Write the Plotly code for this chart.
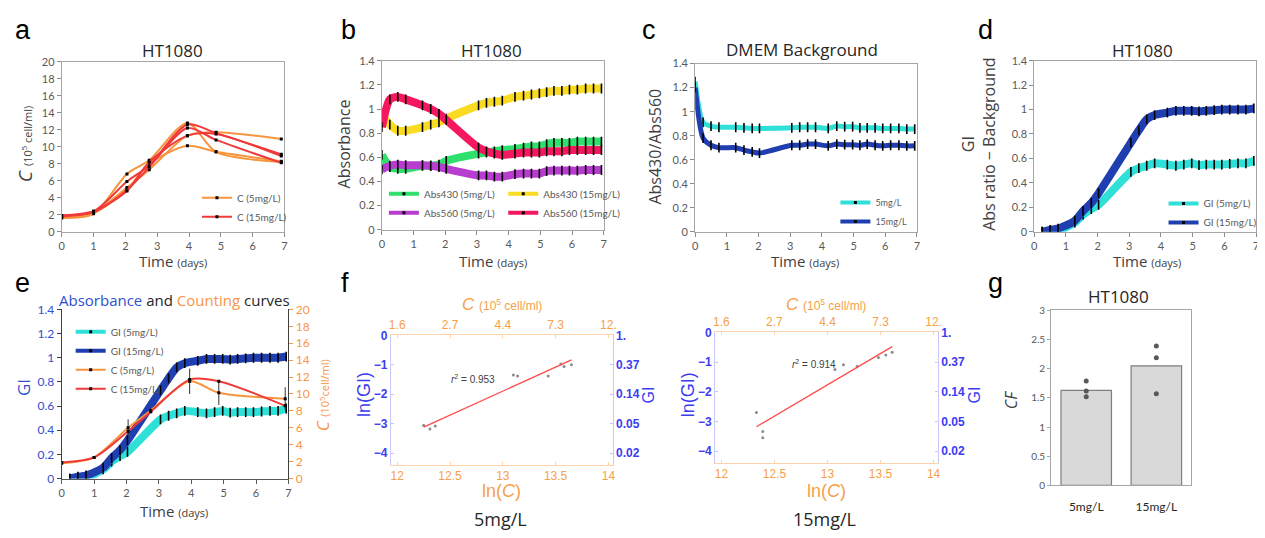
import numpy as np
import plotly.graph_objects as go

W, H = 1265, 538          # reference picture size
OX, OY = 8, 8             # page body margin of the html page
FW, FH = W - OX, H - OY   # figure size


def px(x):
    return (x - OX) / FW


def py(y):
    return 1 - (y - OY) / FH


# ---------------- DATA ----------------
# panel a / e : cell counts (10^5 cell/ml)
t_count = [0, 1, 2.05, 2.75, 3.95, 4.85, 6.9]
c5_rep1 = [1.6, 2.1, 6.8, 8.4, 12.8, 9.4, 8.2]
c5_rep2 = [1.7, 2.2, 5.0, 8.0, 10.1, 9.4, 8.3]
c5_rep3 = [1.8, 2.3, 5.2, 7.3, 11.3, 11.7, 10.9]
c15_rep1 = [1.9, 2.4, 5.9, 7.8, 12.6, 11.6, 9.1]
c15_rep2 = [1.8, 2.3, 4.9, 7.6, 12.2, 10.8, 8.1]
c15_rep3 = [1.9, 2.4, 4.8, 8.2, 11.3, 11.5, 8.9]
c5_mean = [1.8, 2.5, 6.0, 8.05, 11.5, 10.15, 9.45]
c5_err = [0.1, 0.1, 1.0, 0.3, 1.5, 1.45, 1.35]
c15_mean = [1.9, 2.5, 5.6, 7.9, 11.7, 11.5, 8.6]

# panels b, c, d, e : absorbance time points (days)
t_abs = [0, 0.25, 0.5, 0.75, 1.28, 1.54, 1.8, 2.03, 3.05, 3.3, 3.55, 3.8,
         4.2, 4.47, 4.72, 4.97, 5.2, 5.43, 5.68, 5.92, 6.17, 6.43, 6.68, 6.93]
abs430_5 = [0.62, 0.52, 0.505, 0.505, 0.53, 0.53, 0.54, 0.57, 0.63, 0.64, 0.65, 0.66,
            0.67, 0.68, 0.69, 0.69, 0.71, 0.72, 0.72, 0.72, 0.73, 0.73, 0.73, 0.73]
abs430_15 = [0.95, 0.87, 0.82, 0.82, 0.85, 0.87, 0.89, 0.92, 1.03, 1.05, 1.06, 1.07,
             1.10, 1.11, 1.12, 1.13, 1.14, 1.15, 1.15, 1.16, 1.16, 1.17, 1.17, 1.17]
abs560_5 = [0.50, 0.53, 0.54, 0.535, 0.535, 0.53, 0.52, 0.505, 0.45, 0.45, 0.44, 0.44,
            0.46, 0.465, 0.465, 0.465, 0.485, 0.49, 0.49, 0.49, 0.49, 0.495, 0.495, 0.495]
abs560_15 = [0.85, 1.08, 1.10, 1.08, 1.03, 1.00, 0.96, 0.91, 0.68, 0.65, 0.63, 0.62,
             0.63, 0.64, 0.64, 0.64, 0.65, 0.65, 0.65, 0.66, 0.66, 0.66, 0.66, 0.66]
bg_5 = [1.25, 0.91, 0.88, 0.87, 0.87, 0.865, 0.86, 0.86, 0.865, 0.87, 0.87, 0.87,
        0.86, 0.88, 0.875, 0.875, 0.865, 0.865, 0.865, 0.86, 0.86, 0.86, 0.855, 0.855]
bg_15 = [1.2, 0.78, 0.72, 0.70, 0.70, 0.68, 0.665, 0.655, 0.72, 0.72, 0.73, 0.73,
         0.715, 0.73, 0.725, 0.725, 0.72, 0.73, 0.72, 0.715, 0.72, 0.72, 0.715, 0.715]
t_gi = [0.25, 0.5, 0.75, 1.28, 1.54, 1.8, 2.03, 3.05, 3.3, 3.55, 3.8,
        4.2, 4.47, 4.72, 4.97, 5.2, 5.43, 5.68, 5.92, 6.17, 6.43, 6.68, 6.93]
gi_5 = [0.0, 0.01, 0.01, 0.075, 0.14, 0.185, 0.22, 0.49, 0.52, 0.54, 0.56,
        0.55, 0.54, 0.55, 0.56, 0.545, 0.55, 0.55, 0.55, 0.555, 0.56, 0.56, 0.58]
gi_15 = [0.0, 0.015, 0.025, 0.09, 0.17, 0.235, 0.315, 0.73, 0.83, 0.92, 0.955,
         0.975, 0.99, 0.99, 0.99, 0.985, 0.99, 0.995, 1.0, 1.0, 1.0, 1.0, 1.01]

# panel f : ln(C) vs ln(GI)
lnc_5 = [12.25, 12.31, 12.36, 13.10, 13.14, 13.43, 13.55, 13.58, 13.65]
lngi_5 = [-3.05, -3.18, -3.08, -1.35, -1.38, -1.38, -0.97, -1.06, -1.0]
lnc_15 = [12.33, 12.39, 12.39, 13.07, 13.15, 13.28, 13.48, 13.55, 13.61]
lngi_15 = [-2.70, -3.34, -3.55, -1.25, -1.09, -1.14, -0.85, -0.76, -0.67]
r2_5 = "0.953"
r2_15 = "0.914"
f_xticks = [12, 12.5, 13, 13.5, 14]
f_xticktext = ["12", "12.5", "13", "13.5", "14"]
f_ctext = ["1.6", "2.7", "4.4", "7.3", "12."]
f_yticks = [0, -1, -2, -3, -4]
f_gitext = ["1.", "0.37", "0.14", "0.05", "0.02"]

# panel g : CF
g_cats = ["5mg/L", "15mg/L"]
g_means = [1.63, 2.05]
g_pts_x = ["5mg/L", "5mg/L", "5mg/L", "15mg/L", "15mg/L", "15mg/L"]
g_pts_y = [1.79, 1.62, 1.52, 2.39, 2.19, 1.57]

# ---------------- STYLE ----------------
ORANGE = "#f7953f"
RED = "#f03a3a"
GREEN = "#2fe06c"
YELLOW = "#f9dc22"
PURPLE = "#b83ccf"
PINK = "#f5185f"
CYAN = "#2fe0d8"
NAVY = "#1f3fb0"
TICK = "#595959"
TXT = "#262626"
EBLUE = "#2f4fd0"
EORANGE = "#f79646"
MBLUE = "#3c3cf0"
MORANGE = "#f5a04a"

fig = go.Figure()


def band(x, y, color, name, xa, ya, legend, width=8):
    fig.add_trace(go.Scatter(
        x=x, y=y, mode="lines+markers", name=name, legendgroup=name + xa,
        showlegend=False,
        line=dict(color=color, width=width, shape="spline", smoothing=0.7),
        marker=dict(symbol="line-ns", size=7, color="black",
                    line=dict(color="black", width=1.6)),
        xaxis=xa, yaxis=ya))
    # legend entry (thin line with a small black point, as in the reference)
    fig.add_trace(go.Scatter(
        x=[None], y=[None], mode="lines+markers", name=name, legendgroup=name + xa,
        line=dict(color=color, width=4),
        marker=dict(symbol="square", size=3, color="black"),
        xaxis=xa, yaxis=ya, legend=legend))


def count_line(x, y, color, name, xa, ya, legend, show):
    fig.add_trace(go.Scatter(
        x=x, y=y, mode="lines+markers", name=name, legendgroup=name,
        showlegend=show,
        line=dict(color=color, width=2, shape="spline", smoothing=0.8),
        marker=dict(symbol="square", size=3, color="black"),
        xaxis=xa, yaxis=ya, legend=legend))


# panel a
for i, rep in enumerate([c5_rep1, c5_rep2, c5_rep3]):
    count_line(t_count, rep, ORANGE, "C (5mg/L)", "x", "y", "legend", i == 0)
for i, rep in enumerate([c15_rep1, c15_rep2, c15_rep3]):
    count_line(t_count, rep, RED, "C (15mg/L)", "x", "y", "legend", i == 0)

# panel b
band(t_abs, abs430_15, YELLOW, "Abs430 (15mg/L)", "x2", "y2", "legend3")
band(t_abs, abs430_5, GREEN, "Abs430 (5mg/L)", "x2", "y2", "legend2")
band(t_abs, abs560_5, PURPLE, "Abs560 (5mg/L)", "x2", "y2", "legend2")
band(t_abs, abs560_15, PINK, "Abs560 (15mg/L)", "x2", "y2", "legend3")

# panel c
band(t_abs, bg_5, CYAN, "5mg/L", "x3", "y3", "legend4", width=5)
band(t_abs, bg_15, NAVY, "15mg/L", "x3", "y3", "legend4", width=5)

# panel d
band(t_gi, gi_5, CYAN, "GI (5mg/L)", "x4", "y4", "legend5")
band(t_gi, gi_15, NAVY, "GI (15mg/L)", "x4", "y4", "legend5")

# panel e
band(t_gi, gi_5, CYAN, "GI (5mg/L)", "x5", "y5", "legend6")
band(t_gi, gi_15, NAVY, "GI (15mg/L)", "x5", "y5", "legend6")
fig.add_trace(go.Scatter(
    x=t_count, y=c5_mean, mode="lines+markers", name="C (5mg/L)",
    line=dict(color=ORANGE, width=2, shape="spline", smoothing=0.8),
    marker=dict(symbol="square", size=3, color="black"),
    error_y=dict(type="data", array=c5_err, color="#333333", thickness=1, width=0),
    xaxis="x5", yaxis="y6", legend="legend6"))
fig.add_trace(go.Scatter(
    x=t_count, y=c15_mean, mode="lines+markers", name="C (15mg/L)",
    line=dict(color=RED, width=2, shape="spline", smoothing=0.8),
    marker=dict(symbol="square", size=3, color="black"),
    xaxis="x5", yaxis="y6", legend="legend6"))

# panel f
for lnc, lngi, xb, yl, xt, yr in [(lnc_5, lngi_5, "x6", "y7", "x7", "y8"),
                                  (lnc_15, lngi_15, "x8", "y9", "x9", "y10")]:
    fig.add_trace(go.Scatter(x=lnc, y=lngi, mode="markers", showlegend=False,
                             marker=dict(color="#8c8c8c", size=3),
                             xaxis=xb, yaxis=yl))
    slope, icpt = np.polyfit(lnc, lngi, 1)
    fx_line = [min(lnc), max(lnc)]
    fig.add_trace(go.Scatter(x=fx_line, y=[slope * v + icpt for v in fx_line],
                             mode="lines", showlegend=False,
                             line=dict(color="#ff4a4a", width=1.3),
                             xaxis=xb, yaxis=yl))
    fig.add_trace(go.Scatter(x=lnc, y=lngi, mode="markers", showlegend=False,
                             marker=dict(opacity=0), hoverinfo="skip",
                             xaxis=xt, yaxis=yr))

# panel g
fig.add_trace(go.Bar(x=g_cats, y=g_means, width=0.72, showlegend=False,
                     marker=dict(color="#d9d9d9", line=dict(color="#7f7f7f", width=1.2)),
                     xaxis="x10", yaxis="y11"))
fig.add_trace(go.Scatter(x=g_pts_x, y=g_pts_y, mode="markers", showlegend=False,
                         marker=dict(color="#595959", size=5),
                         xaxis="x10", yaxis="y11"))

# ---------------- AXES ----------------
tickfont = dict(family="Lato", size=11, color=TICK)
base = dict(showgrid=False, zeroline=False, showline=True, linecolor="#a6a6a6",
            linewidth=1, mirror=True, ticks="outside", ticklen=4,
            tickcolor="#8c8c8c", tickfont=tickfont)


def xd(l, r):
    return [px(l), px(r)]


def yd(b, t):
    return [py(b), py(t)]


lay = {}
lay["xaxis"] = dict(domain=xd(59, 283), range=[0, 7], dtick=1, anchor="y", **base)
lay["yaxis"] = dict(domain=yd(230, 55), range=[0, 20], dtick=2, anchor="x", **base)
lay["xaxis2"] = dict(domain=xd(381, 604), range=[0, 7], dtick=1, anchor="y2", **base)
lay["yaxis2"] = dict(domain=yd(228, 54), range=[0, 1.4], dtick=0.2, anchor="x2", **base)
lay["xaxis3"] = dict(domain=xd(696, 919), range=[0, 7], dtick=1, anchor="y3", **base)
lay["yaxis3"] = dict(domain=yd(230, 57), range=[0, 1.4], dtick=0.2, anchor="x3", **base)
lay["xaxis4"] = dict(domain=xd(1037, 1260), range=[0, 7], dtick=1, anchor="y4", **base)
lay["yaxis4"] = dict(domain=yd(230, 54), range=[0, 1.4], dtick=0.2, anchor="x4", **base)

ebase = dict(showgrid=False, zeroline=False, showline=True, linewidth=1,
             ticks="outside", ticklen=4)
lay["xaxis5"] = dict(domain=xd(59, 287), range=[0, 7], dtick=1, anchor="y5",
                     linecolor="#595959", tickcolor="#595959", tickfont=tickfont, **ebase)
lay["yaxis5"] = dict(domain=yd(484, 310), range=[0, 1.4], dtick=0.2, anchor="x5",
                     linecolor="#404040", tickcolor="#404040",
                     tickfont=dict(family="Lato", size=12, color=EBLUE), **ebase)
lay["yaxis6"] = dict(range=[0, 20], dtick=2, anchor="x5", overlaying="y5", side="right",
                     linecolor="#404040", tickcolor=EORANGE,
                     tickfont=dict(family="Lato", size=12, color=EORANGE), **ebase)

fbase = dict(showgrid=False, zeroline=False, showline=True, linewidth=1,
             ticks="inside", ticklen=3)
for xb, yl, xt, yr, (l, r), (b, t) in [("xaxis6", "yaxis7", "xaxis7", "yaxis8", (390, 613), (470, 336)),
                                      ("xaxis8", "yaxis9", "xaxis9", "yaxis10", (716, 940), (468, 333))]:
    yid = "y" + yl[5:]
    xid = "x" + xb[5:]
    lay[xb] = dict(domain=xd(l, r), range=[11.94, 14.04], tickvals=f_xticks,
                   ticktext=f_xticktext, anchor=yid, linecolor="#fcd3aa", tickcolor="#fcd3aa",
                   tickfont=dict(family="Liberation Sans", size=12, color=MORANGE), **fbase)
    lay[xt] = dict(range=[11.94, 14.04], tickvals=f_xticks, ticktext=f_ctext,
                   overlaying=xid, side="top", anchor=yid, linecolor="#fcd3aa",
                   tickcolor="#fcd3aa",
                   tickfont=dict(family="Liberation Sans", size=12, color=MORANGE), **fbase)
    lay[yl] = dict(domain=yd(b, t), range=[-4.4, 0.02], tickvals=f_yticks, anchor=xid,
                   linecolor="#c8c8fa", tickcolor="#c8c8fa",
                   tickfont=dict(family="Liberation Sans", size=12, color=MBLUE, weight="bold"),
                   **fbase)
    lay[yr] = dict(range=[-4.4, 0.02], tickvals=f_yticks, ticktext=f_gitext,
                   overlaying=yid, side="right", anchor=xid, linecolor="#c8c8fa",
                   tickcolor="#c8c8fa",
                   tickfont=dict(family="Liberation Sans", size=12, color=MBLUE, weight="bold"),
                   **fbase)

lay["xaxis10"] = dict(domain=xd(1054, 1195), range=[-0.5, 1.5], anchor="y11",
                      showgrid=False, zeroline=False, showline=True, mirror=True,
                      linecolor="#a6a6a6", ticks="", ticklabelstandoff=10,
                      tickfont=dict(family="Lato", size=12, color=TXT))
lay["yaxis11"] = dict(domain=yd(491, 311), range=[0, 3], dtick=0.5, anchor="x10",
                      showgrid=False, zeroline=False, showline=True, mirror=True,
                      linecolor="#a6a6a6", ticks="outside", ticklen=3, tickcolor="#a6a6a6",
                      tickfont=dict(family="Lato", size=10, color=TICK))


# ---------------- LEGENDS ----------------
def leg(x, ytop, size=10):
    return dict(x=px(x), y=py(ytop), xanchor="left", yanchor="top",
                bgcolor="rgba(0,0,0,0)", itemwidth=30, tracegroupgap=0,
                font=dict(family="Lato", size=size, color=TICK))


lay["legend"] = leg(195, 180)
lay["legend2"] = leg(383, 176)
lay["legend3"] = leg(503, 176)
lay["legend4"] = leg(837, 185, 9)
lay["legend5"] = leg(1167, 186)
lay["legend6"] = leg(68, 318)

# ---------------- TEXT ----------------
ann = []


def text(x, y, s, size, color=TXT, family="Open Sans", angle=0, xanchor="center"):
    ann.append(dict(x=px(x), y=py(y), xref="paper", yref="paper", text=s,
                    showarrow=False, textangle=angle, xanchor=xanchor, yanchor="middle",
                    font=dict(family=family, size=size, color=color)))


for letter, lx, ly in [("a", 20, 22), ("b", 347, 22), ("c", 650, 22), ("d", 988, 22),
                       ("e", 20, 283), ("f", 344, 283), ("g", 998, 283)]:
    text(lx, ly, letter, 27, "black", "Liberation Sans")

text(170, 43, "HT1080", 17)
text(491, 43, "HT1080", 17)
text(803, 42, "DMEM Background", 17)
text(1146, 43, "HT1080", 17)
text(1122, 297, "HT1080", 17)
text(172, 300, "<span style='color:%s'>Absorbance</span> and "
     "<span style='color:%s'>Counting</span> curves" % (EBLUE, EORANGE), 15)

time_lbl = "Time <span style='font-size:11px'>(days)</span>"
for cx, cy in [(171, 260), (493, 260), (806, 260), (1150, 260), (172, 517)]:
    text(cx, cy, time_lbl, 15, "#404040")

text(22, 140, "<i>C</i> <span style='font-size:11px'>(10<sup>5</sup> cell/ml)</span>", 19,
     "#404040", angle=-90)
text(343, 140, "Absorbance", 16, "#404040", angle=-90)
text(656, 142, "Abs430/Abs560", 16, "#404040", angle=-90)
text(981, 140, "GI<br>Abs ratio − Background", 16, "#404040", angle=-90)
text(20, 390, "GI", 17, EBLUE, angle=-90)
text(322, 398, "<i>C</i> <span style='font-size:11px'>(10<sup>5</sup>cell/ml)</span>", 17,
     EORANGE, angle=-90)

for l, r, top in [(390, 613, 336), (716, 940, 333)]:
    cx = (l + r) / 2
    text(cx, 305, "<i>C</i> <span style='font-size:12px'>(10<sup>5</sup> cell/ml)</span>", 17,
         MORANGE, "Liberation Sans")
    text(cx, 497, "ln(<i>C</i>)", 18, MORANGE, "Liberation Sans")
    text(l - 27, 398, "ln(GI)", 18, MBLUE, "Liberation Sans", angle=-90)
    text(r + 37, 398, "GI", 16, MBLUE, "Liberation Sans", angle=-90)

text(500, 526, "5mg/L", 18)
text(826, 526, "15mg/L", 18)
ann.append(dict(x=12.72, y=-1.5, xref="x6", yref="y7", showarrow=False,
                text="<i>r</i><sup>2</sup> = " + r2_5,
                font=dict(family="Liberation Sans", size=10, color="#404040")))
ann.append(dict(x=12.87, y=-1.08, xref="x8", yref="y9", showarrow=False,
                text="<i>r</i><sup>2</sup> = " + r2_15,
                font=dict(family="Liberation Sans", size=10, color="#404040")))
text(1013, 403, "<i>CF</i>", 16, "#404040", angle=-90)

fig.update_layout(
    width=FW, height=FH, margin=dict(l=0, r=0, t=0, b=0),
    paper_bgcolor="white", plot_bgcolor="white",
    annotations=ann, **lay)

fig.write_html("out.html")
